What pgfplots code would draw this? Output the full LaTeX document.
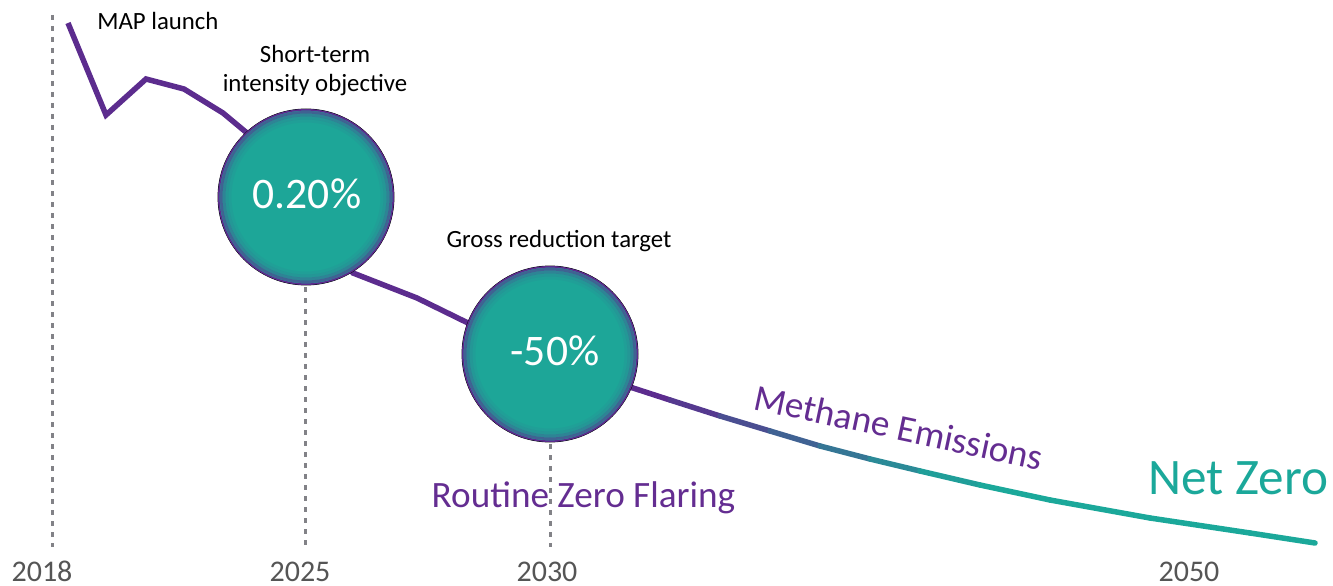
\documentclass[border=0pt]{standalone}
\usepackage{fontspec}
\setmainfont{Carlito}
\usepackage{pgfplots}
\pgfplotsset{compat=1.18}
\definecolor{purp}{RGB}{92,44,142}
\definecolor{tealc}{RGB}{29,166,152}
\definecolor{txtpurp}{RGB}{100,45,145}
\definecolor{nzteal}{RGB}{27,168,154}
\definecolor{dashgray}{RGB}{130,130,135}
\definecolor{yeargray}{RGB}{85,85,85}
\begin{document}
\begin{tikzpicture}
\useasboundingbox (0,0) rectangle (666.5pt,292.5pt);
\begin{axis}[
 at={(0,0)}, anchor=south west,
 scale only axis, width=666.5pt, height=292.5pt,
 xmin=0,xmax=1333,ymin=0,ymax=585,
 axis line style={draw=none}, major tick length=0pt, tick style={draw=none},
 ytick=\empty,
 xtick={42,300,547,1189}, xticklabels={2018,2025,2030,2050},
 xticklabel style={anchor=base, inner sep=0pt, yshift=1.75pt, font=\fontsize{15pt}{18pt}\selectfont, text=yeargray},
 clip=false,
 point meta min=600, point meta max=970,
 colormap={grad}{rgb255(0)=(92,44,142); rgb255(1)=(92,44,142); rgb255(6)=(27,168,154)},
 /pgf/number format/assume math mode=true,
]
% dashed reference lines
\addplot[dashgray, line width=1.5pt, dash pattern=on 2.5pt off 3pt] coordinates {(52,570) (52,38)};
\addplot[dashgray, line width=1.5pt, dash pattern=on 2.5pt off 3pt] coordinates {(305,298) (305,38)};
\addplot[dashgray, line width=1.5pt, dash pattern=on 2.5pt off 3pt] coordinates {(550,141) (550,38)};
% emissions line (purple part)
\addplot[purp, line width=2.75pt, line join=miter] coordinates {
 (68,562) (106,470) (146,506) (184,496) (223,472) (247,452) (306,380) (353,312) (417,287) (468,262) (550,229) (633,197)};
% emissions line (gradient part)
\addplot[mesh, point meta=x, line width=2.75pt, line cap=round, shader=interp] coordinates {
 (633,197) (670,185) (720,169) (770,154) (820,139) (870,126) (920,114) (980,100) (1050,85) (1150,67) (1250,52) (1315,42)};
% bubbles
\addplot[only marks, mark=*, mark size=44pt, mark options={fill=tealc, draw=none}] coordinates {(306,388) (550,231)};
\addplot[only marks, mark=o, mark size=38pt, mark options={draw=purp, draw opacity=0.05, line width=1.5pt}] coordinates {(306,388) (550,231)};
\addplot[only marks, mark=o, mark size=39.5pt, mark options={draw=purp, draw opacity=0.12, line width=1.5pt}] coordinates {(306,388) (550,231)};
\addplot[only marks, mark=o, mark size=41pt, mark options={draw=purp, draw opacity=0.28, line width=1.5pt}] coordinates {(306,388) (550,231)};
\addplot[only marks, mark=o, mark size=42.4pt, mark options={draw=purp, draw opacity=0.55, line width=1.3pt}] coordinates {(306,388) (550,231)};
\addplot[only marks, mark=o, mark size=43.6pt, mark options={draw=purp, draw opacity=1, line width=0.8pt}] coordinates {(306,388) (550,231)};
% bubble labels
\addplot[only marks, mark=none, nodes near coords, point meta=explicit symbolic,
 every node near coord/.append style={anchor=base, inner sep=0pt, yshift=-5.5pt, xshift=0.5pt, text=white, font=\fontsize{21.8pt}{24pt}\selectfont}]
 coordinates {(306,388) [0.20\%]};
\addplot[only marks, mark=none, nodes near coords, point meta=explicit symbolic,
 every node near coord/.append style={anchor=base, inner sep=0pt, yshift=-5.5pt, xshift=2.5pt, text=white, font=\fontsize{21.8pt}{24pt}\selectfont}]
 coordinates {(550,231) [-50\%]};
% texts
\node[anchor=base west, inner sep=0pt, font=\fontsize{12.4pt}{14pt}\selectfont] at (axis cs:97,555) {MAP launch};
\node[anchor=base, inner sep=0pt, font=\fontsize{12.4pt}{14pt}\selectfont] at (axis cs:315,522) {Short-term};
\node[anchor=base, inner sep=0pt, font=\fontsize{12.4pt}{14pt}\selectfont] at (axis cs:315,493) {intensity objective};
\node[anchor=base, inner sep=0pt, font=\fontsize{12.4pt}{14pt}\selectfont] at (axis cs:559,338) {Gross reduction target};
\node[anchor=base, inner sep=0pt, text=txtpurp, font=\fontsize{18.6pt}{22pt}\selectfont] at (axis cs:583.5,78) {Routine Zero Flaring};
\node[anchor=base west, inner sep=0pt, rotate=-12, text=txtpurp, font=\fontsize{18.6pt}{22pt}\selectfont] at (axis cs:752,176) {Methane Emissions};
\node[anchor=base, inner sep=0pt, text=nzteal, font=\fontsize{25.6pt}{30pt}\selectfont] at (axis cs:1238.5,91) {Net Zero};
\end{axis}
\end{tikzpicture}
\end{document}
